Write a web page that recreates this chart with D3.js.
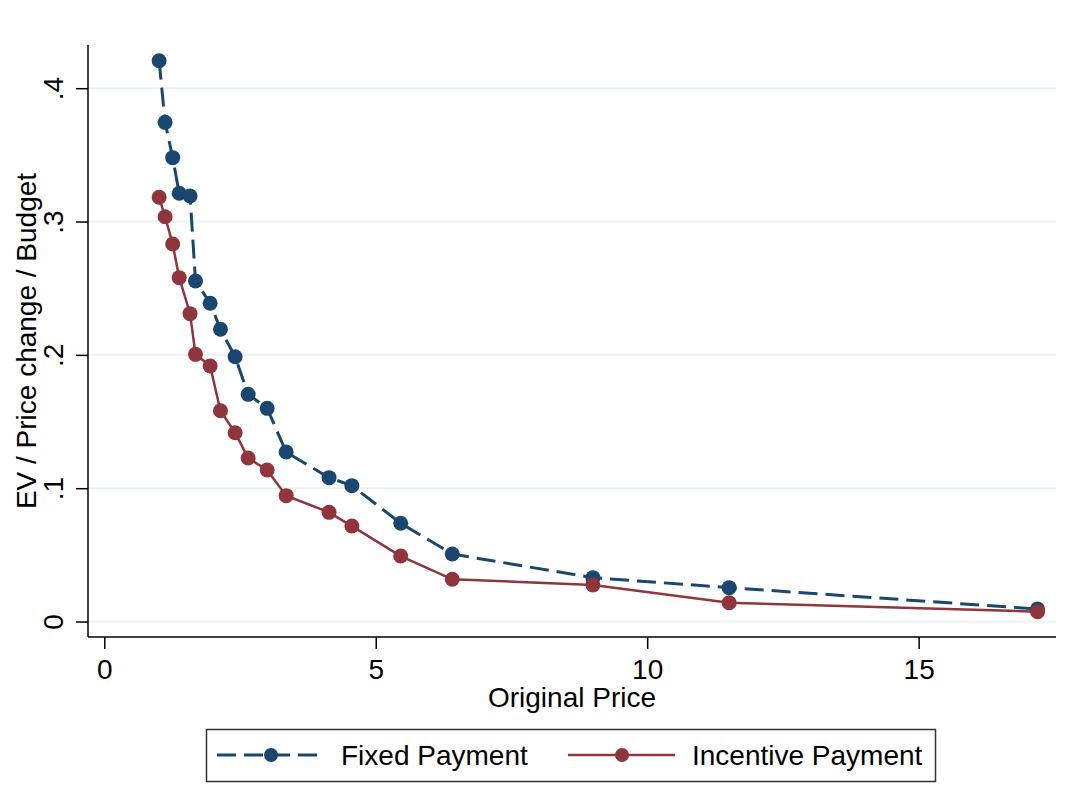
<!DOCTYPE html>
<html>
<head>
<meta charset="utf-8">
<script src="https://cdn.jsdelivr.net/npm/d3@7"></script>
<style>
    body { margin: 0; background: #ffffff; }
    svg { display: block; font-family: 'Liberation Sans', Arial, sans-serif; }
</style>
</head>
<body>
<svg></svg>
<script>
// Original price (shared by both series)
let prices = [1.01, 1.12, 1.26, 1.38, 1.58, 1.68, 1.95, 2.14, 2.41, 2.65, 3.0, 3.35, 4.14, 4.56, 5.46, 6.41, 9.0, 11.51, 17.19];

// EV / Price change / Budget
let fixedPayment = [0.4206, 0.3744, 0.3479, 0.3212, 0.3191, 0.2554, 0.2387, 0.2192, 0.1986, 0.1704, 0.1599, 0.1271, 0.1079, 0.1019, 0.0737, 0.0506, 0.0329, 0.0254, 0.0094];
let incentivePayment = [0.3182, 0.3036, 0.2831, 0.2579, 0.2309, 0.2004, 0.1916, 0.1581, 0.1416, 0.1226, 0.1136, 0.0944, 0.0819, 0.0716, 0.0491, 0.0317, 0.0274, 0.0141, 0.0074];

// Tick values
let xTicks = [0, 5, 10, 15];
let yTicks = [0, 0.1, 0.2, 0.3, 0.4];

let seriesNames = ['Fixed Payment', 'Incentive Payment'];

// Canvas size
let width = 1075;
let height = 811;

// Plot region
let plotLeft = 88;
let plotRight = 1056;
let plotTop = 45;
let plotBottom = 637;

let svg = d3.select('svg')
    .attr('width', width)
    .attr('height', height);

let xScale = d3.scaleLinear()
    .domain([-0.3, 17.53])
    .range([plotLeft, plotRight]);

let yScale = d3.scaleLinear()
    .domain([-0.0116, 0.4324])
    .range([plotBottom, plotTop]);

// gridlines
svg.append('g')
    .selectAll('line')
    .data(yTicks)
    .enter()
    .append('line')
    .attr('x1', plotLeft)
    .attr('x2', plotRight)
    .attr('y1', (d) => yScale(d))
    .attr('y2', (d) => yScale(d))
    .attr('stroke', '#eaf2f3')
    .attr('stroke-width', 2);

// axes
let xAxis = d3.axisBottom(xScale)
    .tickValues(xTicks)
    .tickSize(12)
    .tickPadding(10)
    .tickFormat(d3.format('d'));

let yAxis = d3.axisLeft(yScale)
    .tickValues(yTicks)
    .tickSize(12)
    .tickFormat((d) => d === 0 ? '0' : d3.format('.1f')(d).replace(/^0/, ''));

let gx = svg.append('g')
    .attr('transform', 'translate(0, ' + plotBottom + ')')
    .call(xAxis);

gx.select('.domain')
    .attr('d', 'M' + plotLeft + ',0H' + plotRight)
    .attr('stroke-width', 1.5);

gx.selectAll('.tick line').attr('stroke-width', 1.5);
gx.selectAll('.tick text')
    .attr('font-size', 28)
    .attr('font-family', "'Liberation Sans', Arial, sans-serif")
    .attr('fill', '#000');

let gy = svg.append('g')
    .attr('transform', 'translate(' + plotLeft + ', 0)')
    .call(yAxis);

gy.select('.domain')
    .attr('d', 'M0,' + plotTop + 'V' + plotBottom)
    .attr('stroke-width', 1.5);

gy.selectAll('.tick line').attr('stroke-width', 1.5);
gy.selectAll('.tick text')
    .attr('font-size', 28)
    .attr('font-family', "'Liberation Sans', Arial, sans-serif")
    .attr('fill', '#000')
    .attr('x', null)
    .attr('dy', null)
    .attr('text-anchor', 'middle')
    .attr('transform', 'translate(-25, 0) rotate(-90)');

// axis titles
svg.append('text')
    .attr('x', (plotLeft + plotRight) / 2)
    .attr('y', 707)
    .attr('text-anchor', 'middle')
    .attr('font-size', 28)
    .text('Original Price');

svg.append('text')
    .attr('transform', 'translate(36, ' + ((plotTop + plotBottom) / 2) + ') rotate(-90)')
    .attr('text-anchor', 'middle')
    .attr('font-size', 28)
    .text('EV / Price change / Budget');

// series
let series = [
    { name: seriesNames[0], values: fixedPayment, color: '#1a476f', dash: '19,8', width: 3 },
    { name: seriesNames[1], values: incentivePayment, color: '#90353b', dash: null, width: 2.5 }
];

let line = d3.line()
    .x((d) => xScale(d[0]))
    .y((d) => yScale(d[1]));

series.forEach((s) => {
    let pts = prices.map((p, i) => [p, s.values[i]]);
    let g = svg.append('g');
    g.append('path')
        .datum(pts)
        .attr('d', line)
        .attr('fill', 'none')
        .attr('stroke', s.color)
        .attr('stroke-width', s.width)
        .attr('stroke-dasharray', s.dash);
    g.selectAll('circle')
        .data(pts)
        .enter()
        .append('circle')
        .attr('cx', (d) => xScale(d[0]))
        .attr('cy', (d) => yScale(d[1]))
        .attr('r', 7.5)
        .attr('fill', s.color);
});

// legend
let legend = svg.append('g');
legend.append('rect')
    .attr('x', 206.5)
    .attr('y', 729.5)
    .attr('width', 729)
    .attr('height', 52)
    .attr('fill', '#fff')
    .attr('stroke', '#333')
    .attr('stroke-width', 1.5);

let legendX = [217, 568];
series.forEach((s, i) => {
    let x0 = legendX[i];
    legend.append('line')
        .attr('x1', x0)
        .attr('x2', x0 + 107)
        .attr('y1', 755)
        .attr('y2', 755)
        .attr('stroke', s.color)
        .attr('stroke-width', s.width)
        .attr('stroke-dasharray', s.dash);
    legend.append('circle')
        .attr('cx', x0 + 54)
        .attr('cy', 755)
        .attr('r', 7)
        .attr('fill', s.color);
    legend.append('text')
        .attr('x', x0 + 124)
        .attr('y', 765)
        .attr('font-size', 28)
        .text(s.name);
});
</script>
</body>
</html>
